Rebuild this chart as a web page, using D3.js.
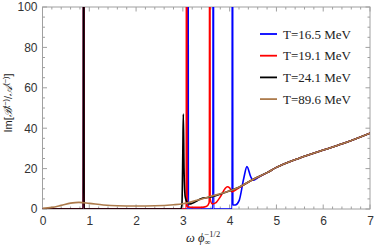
<!DOCTYPE html>
<html><head><meta charset="utf-8">
<script src="https://cdn.jsdelivr.net/npm/d3@7"></script>
<style>body{margin:0;background:#fff}svg{display:block}</style>
</head><body>
<svg id="c" width="374" height="248"></svg>
<script>
// ---- data ----
const seriesNames = ["T=16.5 MeV", "T=19.1 MeV", "T=24.1 MeV", "T=89.6 MeV"];
const seriesColors = ["#0000ff", "#ff0000", "#000000", "#ad7b4c"];
const xTicks = [0, 1, 2, 3, 4, 5, 6, 7];
const yTicks = [0, 20, 40, 60, 80, 100];

const brownX = [0, 0.2, 0.4, 0.6, 0.78, 1.0, 1.3, 1.6, 2.0, 2.4, 2.8, 3.0, 3.3, 3.6, 3.9, 4.2, 4.5, 4.8, 5.0, 5.5, 6.0, 6.5, 7.0];
const brownY = [0.4, 0.8, 1.8, 2.9, 3.3, 2.8, 2.0, 1.6, 1.5, 1.6, 2.1, 2.6, 4.3, 6.3, 8.2, 10.8, 14.6, 18.0, 20.6, 25.3, 29.2, 33.0, 37.5];

const blackX = [0, 0.872, 0.88, 0.888, 2.95, 2.98, 3.0, 3.01, 3.025, 3.05, 3.1, 3.15, 3.2, 3.3, 3.4, 3.5, 3.6, 3.7, 3.9, 4.2, 4.5, 4.8, 5.0, 5.5, 6.0, 6.5, 7.0];
const blackY = [0, 0, 300, 0, 0, 2, 30, 47, 20, 6, 3, 2.5, 2.8, 4.0, 5.2, 5.6, 6.0, 6.6, 8.2, 10.8, 14.6, 18.0, 20.6, 25.3, 29.2, 33.0, 37.5];

const redX = [0, 0.872, 0.88, 0.888, 3.072, 3.08, 3.088, 3.12, 3.2, 3.4, 3.5, 3.56, 3.567, 3.575, 3.583, 3.63, 3.7, 3.8, 3.9, 3.95, 4.0, 4.05, 4.1, 4.2, 4.5, 4.8, 5.0, 5.5, 6.0, 6.5, 7.0];
const redY = [0, 0, 300, 0, 0, 300, 1.5, 1, 0.8, 0.8, 1.2, 3, 6, 300, 5, 2.5, 3, 6, 10, 11, 10.5, 8.5, 9, 10.5, 14.6, 18.0, 20.6, 25.3, 29.2, 33.0, 37.5];

const blueX = [0, 0.874, 0.882, 0.89, 3.102, 3.11, 3.118, 3.642, 3.65, 3.658, 4.052, 4.06, 4.068, 4.12, 4.2, 4.3, 4.37, 4.45, 4.5, 4.6, 4.7, 4.8, 5.0, 5.5, 6.0, 6.5, 7.0];
const blueY = [0, 0, 300, 0, 0, 300, 0, 0, 300, 0, 0, 300, 2, 2, 4, 15, 21, 16, 14.2, 15.5, 16.8, 18.0, 20.6, 25.3, 29.2, 33.0, 37.5];

const seriesXs = [blueX, redX, blackX, brownX];
const seriesYs = [blueY, redY, blackY, brownY];

// ---- layout ----
const svg = d3.select("#c");
const L = 42.5, R = 370, T = 7, B = 209;
const x = d3.scaleLinear().domain([0, 7]).range([L, R]);
const y = d3.scaleLinear().domain([0, 100]).range([B, T]);

svg.append("defs").append("clipPath").attr("id", "clip")
  .append("rect").attr("x", L).attr("y", T).attr("width", R - L).attr("height", B - T);

// frame & ticks
const frameCol = "#a0a0a0";
const g = svg.append("g");
g.append("rect").attr("x", L).attr("y", T).attr("width", R - L).attr("height", B - T)
  .attr("fill", "none").attr("stroke", frameCol).attr("stroke-width", 1);

const xMinor = d3.range(0, 7.0001, 0.2);
const yMinor = d3.range(0, 100.001, 5);
xMinor.forEach(v => {
  const major = Math.abs(v - Math.round(v)) < 1e-6;
  const len = major ? 4.5 : 2.5;
  g.append("line").attr("x1", x(v)).attr("x2", x(v)).attr("y1", B).attr("y2", B - len).attr("stroke", frameCol);
  g.append("line").attr("x1", x(v)).attr("x2", x(v)).attr("y1", T).attr("y2", T + len).attr("stroke", frameCol);
});
yMinor.forEach(v => {
  const major = v % 20 === 0;
  const len = major ? 4.5 : 2.5;
  g.append("line").attr("y1", y(v)).attr("y2", y(v)).attr("x1", L).attr("x2", L + len).attr("stroke", frameCol);
  g.append("line").attr("y1", y(v)).attr("y2", y(v)).attr("x1", R).attr("x2", R - len).attr("stroke", frameCol);
});

// tick labels via axes
const xAxis = d3.axisBottom(x).tickValues(xTicks).tickSize(0).tickPadding(7).tickFormat(d3.format("d"));
const yAxis = d3.axisLeft(y).tickValues(yTicks).tickSize(0).tickPadding(5).tickFormat(d3.format("d"));
const gx = svg.append("g").attr("transform", `translate(0,${B})`).call(xAxis);
const gy = svg.append("g").attr("transform", `translate(${L},0)`).call(yAxis);
[gx, gy].forEach(a => {
  a.select(".domain").remove();
  a.selectAll("text").attr("font-family", "Liberation Sans, Arial, sans-serif").attr("font-size", 12).attr("fill", "#333");
});

// lines
const plot = svg.append("g").attr("clip-path", "url(#clip)");
seriesXs.forEach((xs, i) => {
  const pts = xs.map((v, j) => [v, seriesYs[i][j]]);
  plot.append("path").datum(pts)
    .attr("fill", "none").attr("stroke", seriesColors[i]).attr("stroke-width", 1.6)
    .attr("stroke-linejoin", "round")
    .attr("d", d3.line().x(d => x(d[0])).y(d => y(d[1])).curve(d3.curveMonotoneX));
});

// legend
const lg = svg.append("g");
seriesNames.forEach((n, i) => {
  const yy = 34 + i * 21.7;
  lg.append("line").attr("x1", 260).attr("x2", 277).attr("y1", yy).attr("y2", yy)
    .attr("stroke", seriesColors[i]).attr("stroke-width", 1.8);
  lg.append("text").attr("x", 283).attr("y", yy + 4.5).text(n)
    .attr("font-family", "Liberation Serif, Times New Roman, serif").attr("font-size", 13).attr("fill", "#222");
});

// x label
const xl = svg.append("text").attr("x", 186).attr("y", 242)
  .attr("font-family", "Liberation Serif, Times New Roman, serif").attr("font-size", 12.5).attr("fill", "#222");
xl.append("tspan").attr("font-style", "italic").text("ω ϕ");
xl.append("tspan").attr("font-size", 8.5).attr("dy", 3).text("∞");
xl.append("tspan").attr("font-size", 8.5).attr("dx", -6).attr("dy", -8.5).text("−1/2");

// y label
const yl = svg.append("text").attr("transform", "translate(12,103) rotate(-90)").attr("text-anchor", "middle")
  .attr("font-family", "Liberation Sans, Arial, sans-serif").attr("font-size", 11).attr("fill", "#222");
yl.append("tspan").text("Im[");
yl.append("tspan").attr("font-family", "DejaVu Serif, serif").attr("font-style", "italic").text("ℬ");
yl.append("tspan").attr("font-size", 7.5).attr("dy", -4).text("(−)");
yl.append("tspan").attr("dy", 4).text("/");
yl.append("tspan").attr("font-family", "DejaVu Serif, serif").attr("font-style", "italic").text("𝒜");
yl.append("tspan").attr("font-size", 7.5).attr("dy", -4).text("(−)");
yl.append("tspan").attr("dy", 4).text("]");
</script>
</body></html>
